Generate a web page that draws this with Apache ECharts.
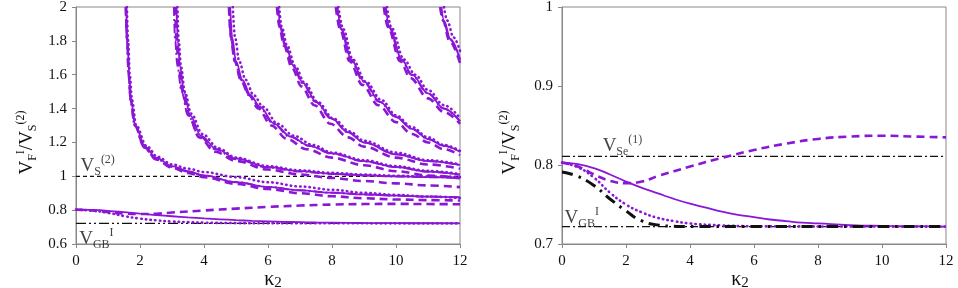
<!DOCTYPE html>
<html><head><meta charset="utf-8">
<script src="https://cdn.jsdelivr.net/npm/echarts@6/dist/echarts.min.js"></script>
<style>html,body{margin:0;padding:0;background:#fff}#c{width:958px;height:288px}</style>
</head><body><div id="c"></div>
<script>
// ---------- data ----------
const xMin = 0, xMax = 12, xStep = 2;
const leftYMin = 0.6, leftYMax = 2, leftYStep = 0.2;
const rightYMin = 0.7, rightYMax = 1, rightYStep = 0.1;
const VS2 = 1.0;      // V_S^(2)
const VGB = 0.722;    // V_GB^I
const VSe1 = 0.811;   // V_Se^(1)

// solid model: fundamental + higher modes
const S0 = [[0,0.803],[0.5,0.801],[1,0.796],[1.5,0.788],[2,0.779],[2.5,0.771],[3,0.764],[3.5,0.757],[4,0.751],[4.5,0.746],[5,0.741],[5.5,0.737],[6,0.734],[6.5,0.731],[7,0.729],[7.5,0.727],[8,0.726],[9,0.724],[10,0.723],[11,0.7225],[12,0.722]];
const S1 = [[1.57,2.0],[1.61,1.8],[1.66,1.6],[1.72,1.45],[1.85,1.3],[2.16,1.175],[2.5,1.11],[3,1.06],[3.5,1.03],[4,1.005],[5,0.965],[6,0.937],[7,0.917],[8,0.903],[9,0.893],[10,0.886],[11,0.88],[12,0.876]];
const S2 = [[3.14,2.0],[3.18,1.8],[3.25,1.65],[3.37,1.5],[3.57,1.36],[3.9,1.24],[4.4,1.16],[5,1.105],[6,1.055],[7,1.03],[8,1.015],[9,1.006],[10,1.0],[11,0.995],[12,0.991]];
const S3 = [[4.82,2.0],[4.88,1.82],[5.0,1.68],[5.2,1.57],[5.45,1.48],[5.75,1.41],[6.2,1.31],[6.7,1.235],[7.3,1.18],[8,1.135],[9,1.09],[10,1.055],[11,1.028],[12,1.01]];
const S4 = [[6.32,2.0],[6.4,1.88],[6.55,1.77],[6.8,1.65],[7.1,1.55],[7.5,1.44],[8,1.34],[8.5,1.26],[9,1.2],[10,1.13],[11,1.09],[12,1.067]];
const S5 = [[8.17,2.0],[8.3,1.87],[8.6,1.69],[9,1.56],[9.5,1.44],[10,1.35],[10.5,1.28],[11,1.22],[11.5,1.18],[12,1.145]];
const S6 = [[9.68,2.0],[9.8,1.88],[10.18,1.69],[10.5,1.6],[11,1.49],[11.5,1.4],[12,1.325]];
const S7 = [[11.42,2.0],[11.5,1.92],[11.7,1.81],[12,1.69]];

// dotted model
const D0 = [[0,0.803],[0.5,0.797],[1,0.784],[1.5,0.765],[2,0.75],[2.5,0.74],[3,0.733],[3.5,0.729],[4,0.726],[5,0.7235],[6,0.7225],[12,0.722]];
const D1 = [[1.59,2.0],[1.63,1.8],[1.68,1.6],[1.75,1.45],[1.88,1.3],[2.2,1.18],[2.55,1.115],[3,1.07],[3.5,1.045],[4,1.025],[5,0.995],[6,0.965],[7,0.94],[8,0.92],[9,0.902],[10,0.89],[11,0.88],[12,0.872]];
const D2 = [[3.17,2.0],[3.21,1.8],[3.28,1.65],[3.4,1.5],[3.6,1.37],[3.95,1.25],[4.45,1.165],[5,1.11],[6,1.06],[7,1.035],[8,1.02],[9,1.01],[10,1.003],[11,0.998],[12,0.995]];
const D3 = [[4.9,2.0],[4.97,1.82],[5.1,1.68],[5.3,1.57],[5.55,1.48],[5.85,1.41],[6.3,1.31],[6.8,1.24],[7.4,1.185],[8,1.14],[9,1.095],[10,1.06],[11,1.032],[12,1.013]];
const D4 = [[6.35,2.0],[6.43,1.88],[6.6,1.77],[6.85,1.65],[7.15,1.55],[7.55,1.44],[8.05,1.34],[8.55,1.265],[9,1.21],[10,1.14],[11,1.095],[12,1.07]];
const D5 = [[8.2,2.0],[8.35,1.87],[8.65,1.69],[9.05,1.56],[9.55,1.45],[10,1.36],[10.5,1.29],[11,1.23],[11.5,1.185],[12,1.15]];
const D6 = [[9.72,2.0],[9.85,1.88],[10.25,1.69],[10.6,1.6],[11,1.51],[11.5,1.42],[12,1.345]];
const D7 = [[11.5,2.0],[11.6,1.92],[11.8,1.82],[12,1.74]];

// dashed model
const Da0 = [[0,0.803],[0.5,0.798],[1,0.788],[1.5,0.78],[2,0.777],[2.5,0.779],[3,0.786],[4,0.798],[5,0.809],[6,0.819],[7,0.827],[8,0.833],[9,0.836],[10,0.837],[11,0.836],[12,0.835]];
const Da1 = [[1.56,2.0],[1.6,1.8],[1.65,1.6],[1.71,1.45],[1.84,1.3],[2.14,1.17],[2.5,1.1],[3,1.05],[3.5,1.02],[4,0.995],[5,0.955],[6,0.925],[7,0.9],[8,0.882],[9,0.87],[10,0.863],[11,0.859],[12,0.857]];
const Da2 = [[3.1,2.0],[3.14,1.8],[3.21,1.65],[3.33,1.5],[3.52,1.36],[3.85,1.23],[4.35,1.145],[5,1.09],[6,1.04],[7,1.01],[8,0.99],[9,0.972],[10,0.958],[11,0.946],[12,0.936]];
const Da3 = [[4.78,2.0],[4.84,1.82],[4.96,1.68],[5.15,1.57],[5.4,1.48],[5.7,1.4],[6.1,1.3],[6.6,1.22],[7.2,1.16],[8,1.11],[9,1.065],[10,1.03],[11,1.005],[12,0.988]];
const Da4 = [[6.28,2.0],[6.36,1.88],[6.5,1.77],[6.75,1.64],[7.05,1.53],[7.45,1.42],[7.95,1.31],[8.5,1.23],[9,1.175],[10,1.11],[11,1.07],[12,1.045]];
const Da5 = [[8.12,2.0],[8.25,1.87],[8.55,1.68],[8.95,1.54],[9.45,1.42],[10,1.32],[10.5,1.25],[11,1.2],[11.5,1.16],[12,1.125]];
const Da6 = [[9.62,2.0],[9.75,1.88],[10.13,1.68],[10.45,1.58],[11,1.46],[11.5,1.38],[12,1.31]];
const Da7 = [[11.38,2.0],[11.47,1.92],[11.67,1.8],[12,1.67]];

// dash-dot model (purple in left panel, black fundamental in right panel)
const DD0 = [[0,0.791],[0.47,0.786],[1,0.774],[1.5,0.757],[2,0.742],[2.45,0.73],[3,0.724],[3.5,0.7225],[4,0.722],[12,0.722]];
const DD1 = [[1.55,2.0],[1.59,1.8],[1.64,1.6],[1.7,1.45],[1.83,1.3],[2.13,1.17],[2.48,1.105],[3,1.055],[3.5,1.027],[4,1.003],[5,0.965],[6,0.937],[7,0.917],[8,0.903],[9,0.893],[10,0.886],[11,0.88],[12,0.876]];
const DD2 = [[3.06,2.0],[3.1,1.8],[3.17,1.65],[3.3,1.5],[3.5,1.36],[3.84,1.24],[4.35,1.16],[5,1.1],[6,1.052],[7,1.028],[8,1.014],[9,1.005],[10,0.999],[11,0.995],[12,0.991]];
const DD3 = [[4.78,2.0],[4.84,1.82],[4.96,1.68],[5.16,1.57],[5.41,1.48],[5.72,1.41],[6.17,1.31],[6.67,1.235],[7.28,1.18],[8,1.133],[9,1.088],[10,1.054],[11,1.027],[12,1.01]];
const DD4 = [[6.3,2.0],[6.38,1.88],[6.53,1.77],[6.78,1.65],[7.08,1.55],[7.48,1.44],[7.98,1.34],[8.5,1.26],[9,1.2],[10,1.13],[11,1.09],[12,1.066]];
const DD5 = [[8.15,2.0],[8.28,1.87],[8.58,1.69],[8.98,1.56],[9.48,1.44],[10,1.35],[10.5,1.28],[11,1.22],[11.5,1.18],[12,1.145]];
const DD6 = [[9.66,2.0],[9.78,1.88],[10.16,1.69],[10.48,1.6],[11,1.49],[11.5,1.4],[12,1.325]];
const DD7 = [[11.4,2.0],[11.48,1.92],[11.68,1.81],[12,1.69]];

// annotation texts (rich) and anchor points
const yName = '{v|V}{sb|F}{sp|I}{v|/V}{sb|S}{sp|(2)}';
const xName = '{k|κ}{s2|2}';
const labVS2 = '{v|V}{sb|S}{sp|(2)}';
const labVGB = '{v|V}{sb|GB}{sp|I}';
const labVSe = '{v|V}{sb|Se}{sp|(1)}';
const labPosLeftVS2 = [0.14, 1.06];
const labPosLeftVGB = [0.1, 0.632];
const labPosRightVSe = [1.27, 0.824];
const labPosRightVGB = [0.08, 0.7335];

// ---------- styling ----------
const PURPLE = '#8A17D6';
const FONT = "'Liberation Serif', 'Times New Roman', serif";
const rich = {
  v: {fontSize: 19, lineHeight: 24, fontFamily: FONT, color: '#111'},
  sb: {fontSize: 12, lineHeight: 12, fontFamily: FONT, color: '#111', verticalAlign: 'bottom'},
  sp: {fontSize: 12, lineHeight: 12, fontFamily: FONT, color: '#111', verticalAlign: 'top'},
  k: {fontSize: 20, lineHeight: 22, fontFamily: FONT, color: '#111'},
  s2: {fontSize: 15, lineHeight: 15, fontFamily: FONT, color: '#111', verticalAlign: 'bottom'}
};
const styles = {
  solid: {color: PURPLE, width: 1.8, type: 'solid'},
  dotted: {color: PURPLE, width: 2.6, type: [0.5, 4.2], cap: 'round'},
  dashed: {color: PURPLE, width: 2.6, type: [8, 5]},
  dashdot: {color: PURPLE, width: 2.0, type: [9, 3, 2, 3]},
  blackdd: {color: '#111', width: 3, type: [11, 6, 2.5, 6]}
};

function curve(data, gi, st, fundamental) {
  const s = {type: 'line', xAxisIndex: gi, yAxisIndex: gi, data: data, showSymbol: false,
    smooth: fundamental ? 0.5 : 0.35, lineStyle: Object.assign({}, styles[st]), silent: true, z: 3, animation: false};
  if (!fundamental) s.smoothMonotone = 'x';
  return s;
}
function refLine(y, gi, dash, w) {
  return {type: 'line', xAxisIndex: gi, yAxisIndex: gi, data: [[xMin, y], [xMax, y]], showSymbol: false,
    lineStyle: {color: '#111', width: w, type: dash}, silent: true, z: 2, animation: false};
}
function label(pos, text, gi) {
  return {type: 'scatter', xAxisIndex: gi, yAxisIndex: gi, data: [pos], symbolSize: 0, silent: true, animation: false,
    label: {show: true, position: 'right', distance: 0, formatter: text, rich: rich}, z: 5};
}

function xAxis(gi) {
  return {type: 'value', gridIndex: gi, min: xMin, max: xMax, interval: xStep,
    axisLine: {lineStyle: {color: '#888', width: 1}},
    axisTick: {show: true, inside: false, length: 4, lineStyle: {color: '#888'}},
    splitLine: {show: false},
    axisLabel: {color: '#111', fontSize: 15, fontFamily: FONT, margin: 10},
    name: xName, nameLocation: 'middle', nameGap: 25, nameMoveOverlap: false,
    nameTextStyle: {rich: rich, fontFamily: FONT, padding: gi === 0 ? [0, 0, 0, 10] : [0, 28, 0, 0]}};
}
function yAxis(gi, mn, mx, st) {
  return {type: 'value', gridIndex: gi, min: mn, max: mx, interval: st,
    axisLine: {show: true, lineStyle: {color: '#888', width: 1}},
    axisTick: {show: true, inside: false, length: 4, lineStyle: {color: '#888'}},
    splitLine: {show: false},
    axisLabel: {color: '#111', fontSize: 15, fontFamily: FONT, margin: 9,
      formatter: v => String(Math.round(v * 10) / 10)},
    name: yName, nameLocation: 'middle', nameRotate: 90, nameGap: gi === 0 ? 37 : 40,
    nameTextStyle: {rich: rich, fontFamily: FONT, padding: [0, 34, 0, 0]}};
}

const series = [
  refLine(VS2, 0, [4, 3], 1.2),
  refLine(VGB, 0, [10, 3, 2, 3, 2, 3], 1.2),
  refLine(VSe1, 1, [8, 3, 2, 3], 1.2),
  refLine(VGB, 1, [8, 3, 2, 3], 1.2)
];
series.push(curve(S0, 0, 'solid', true));
[S1, S2, S3, S4, S5, S6, S7].forEach(d => series.push(curve(d, 0, 'solid')));
series.push(curve(D0, 0, 'dotted', true));
[D1, D2, D3, D4, D5, D6, D7].forEach(d => series.push(curve(d, 0, 'dotted')));
series.push(curve(Da0, 0, 'dashed', true));
[Da1, Da2, Da3, Da4, Da5, Da6, Da7].forEach(d => series.push(curve(d, 0, 'dashed')));
[DD1, DD2, DD3, DD4, DD5, DD6, DD7].forEach(d => series.push(curve(d, 0, 'dashdot')));
series.push(curve(S0, 1, 'solid', true));
series.push(curve(D0, 1, 'dotted', true));
series.push(curve(Da0, 1, 'dashed', true));
series.push(curve(DD0, 1, 'blackdd', true));
series.push(label(labPosLeftVS2, labVS2, 0));
series.push(label(labPosLeftVGB, labVGB, 0));
series.push(label(labPosRightVSe, labVSe, 1));
series.push(label(labPosRightVGB, labVGB, 1));

const gridBase = {top: 7, width: 384, height: 237, show: true, borderColor: '#888', borderWidth: 1,
  backgroundColor: 'transparent', containLabel: false, outerBoundsMode: 'none'};
const chart = echarts.init(document.getElementById('c'), null, {renderer: 'canvas'});
chart.setOption({
  animation: false,
  backgroundColor: '#fff',
  textStyle: {fontFamily: FONT},
  grid: [
    Object.assign({left: 76}, gridBase),
    Object.assign({left: 562}, gridBase)
  ],
  xAxis: [xAxis(0), xAxis(1)],
  yAxis: [yAxis(0, leftYMin, leftYMax, leftYStep), yAxis(1, rightYMin, rightYMax, rightYStep)],
  series: series
});
</script></body></html>
